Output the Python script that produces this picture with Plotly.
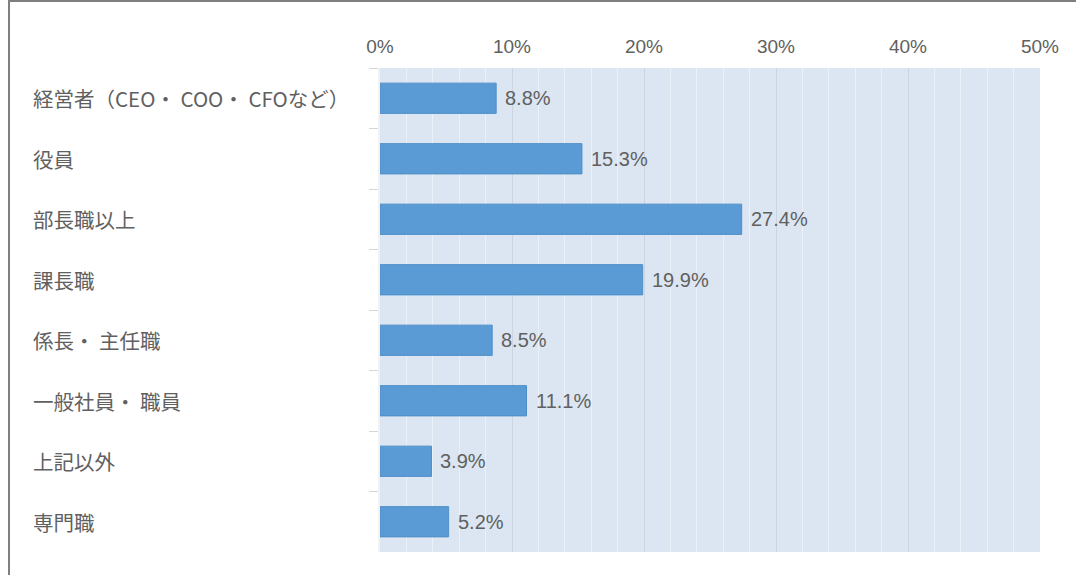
import plotly.graph_objects as go

categories = ["経営者（CEO・ COO・ CFOなど）", "役員", "部長職以上", "課長職",
              "係長・ 主任職", "一般社員・ 職員", "上記以外", "専門職"]
values = [8.8, 15.3, 27.4, 19.9, 8.5, 11.1, 3.9, 5.2]
x_ticks = [0, 10, 20, 30, 40, 50]
x_tick_labels = ["0%", "10%", "20%", "30%", "40%", "50%"]

W, H = 1076, 575
ML, MR, MT, MB = 380, 36, 68, 23
PW, PH = W - ML - MR, H - MT - MB

def px_x(p):
    return (p - ML) / PW

def px_y(p):
    return (H - MB - p) / PH

TEXT = "#606060"
NUMFONT = "Liberation Sans, Arial, sans-serif"
CJKFONT = "Noto Sans CJK JP, sans-serif"

fig = go.Figure()
fig.add_trace(go.Bar(
    x=values, y=categories, orientation="h",
    marker=dict(color="#5b9bd5", line=dict(color="#4f8fc9", width=1)),
    width=0.5, hoverinfo="skip",
))

annotations = []
for c, v in zip(categories, values):
    annotations.append(dict(x=v, y=c, xref="x", yref="y", text=f"{v:.1f}%",
                            showarrow=False, xanchor="left", xshift=7,
                            font=dict(family=NUMFONT, size=20, color=TEXT)))
    annotations.append(dict(x=px_x(31), y=c, xref="paper", yref="y", text=c,
                            showarrow=False, xanchor="left",
                            font=dict(family=CJKFONT, size=20.5, color=TEXT)))

shapes = [
    dict(type="line", xref="paper", yref="paper", x0=px_x(9), x1=px_x(9),
         y0=px_y(0), y1=px_y(H), line=dict(color="#7f7f7f", width=2)),
    dict(type="line", xref="paper", yref="paper", x0=px_x(9), x1=px_x(W),
         y0=px_y(1), y1=px_y(1), line=dict(color="#7f7f7f", width=2)),
]

fig.update_layout(
    width=W, height=H,
    margin=dict(l=ML, r=MR, t=MT, b=MB, pad=0),
    paper_bgcolor="white", plot_bgcolor="#dce6f2",
    showlegend=False, bargap=0.5,
    annotations=annotations, shapes=shapes,
    xaxis=dict(side="top", range=[0, 50], tickvals=x_ticks, ticktext=x_tick_labels,
               showgrid=True, gridcolor="#ccd5df", gridwidth=1,
               minor=dict(dtick=2, showgrid=True, gridcolor="#eaf1f9", gridwidth=1),
               zeroline=False, showline=False, ticks="", ticklabelstandoff=10,
               tickfont=dict(family=NUMFONT, size=19, color=TEXT), fixedrange=True),
    yaxis=dict(autorange="reversed", showticklabels=False, ticks="outside",
               tickson="boundaries", ticklen=9, tickcolor="#d6d6d6", tickwidth=1,
               showgrid=False, zeroline=False, showline=True, linecolor="#f2f2f2",
               linewidth=2, fixedrange=True),
)

fig.write_html("out.html")
